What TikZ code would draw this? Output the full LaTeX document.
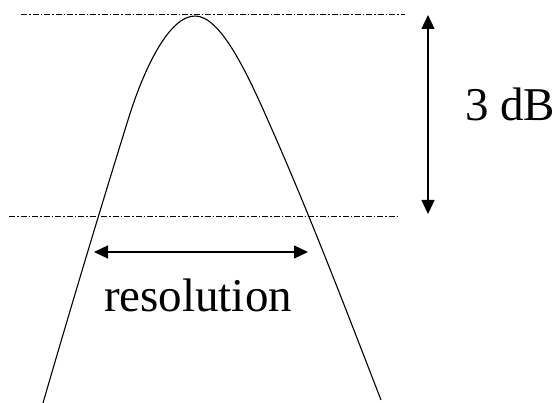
\documentclass[tikz,border=0pt]{standalone}
\usepackage{fontspec}
\setmainfont{Liberation Serif}
\usetikzlibrary{arrows.meta}

\begin{document}
\begin{tikzpicture}[
    x=1pt, y=-1pt,
    level/.style={line width=0.8pt, dash pattern=on 6pt off 2pt on 1.5pt off 2pt},
    peak/.style={line width=1.1pt, line join=round},
    arrow/.style={{Triangle[length=14pt,width=13pt]}-{Triangle[length=14pt,width=13pt]}, line width=1.2pt},
    lab/.style={font=\fontsize{47}{50}\selectfont, inner sep=0pt},
]
\useasboundingbox (0,0) rectangle (555,403);

% reference levels
\coordinate (topL) at (21,14);
\coordinate (topR) at (405,14);
\coordinate (botL) at (9,216);
\coordinate (botR) at (399,216);
\draw[level] (topL) -- (topR);
\draw[level] (botL) -- (botR);

% spectral peak
\draw[peak] (43,403) .. controls (70,310) and (100,210) .. (128,120)
    .. controls (145,65) and (170,16) .. (195,16)
    .. controls (220,16) and (246,70) .. (270,125)
    .. controls (310,215) and (350,320) .. (381,400);

% 3 dB drop
\coordinate (dbT) at (428,15);
\coordinate (dbB) at (428,214);
\draw[arrow] (dbT) -- (dbB);
\node[lab, anchor=base west] (db) at (465,121) {3 dB};

% resolution width
\coordinate (resL) at (94,252);
\coordinate (resR) at (308,252);
\draw[arrow] (resL) -- (resR);
\node[lab, anchor=base] (res) at (198,312) {resolution};
\end{tikzpicture}
\end{document}
